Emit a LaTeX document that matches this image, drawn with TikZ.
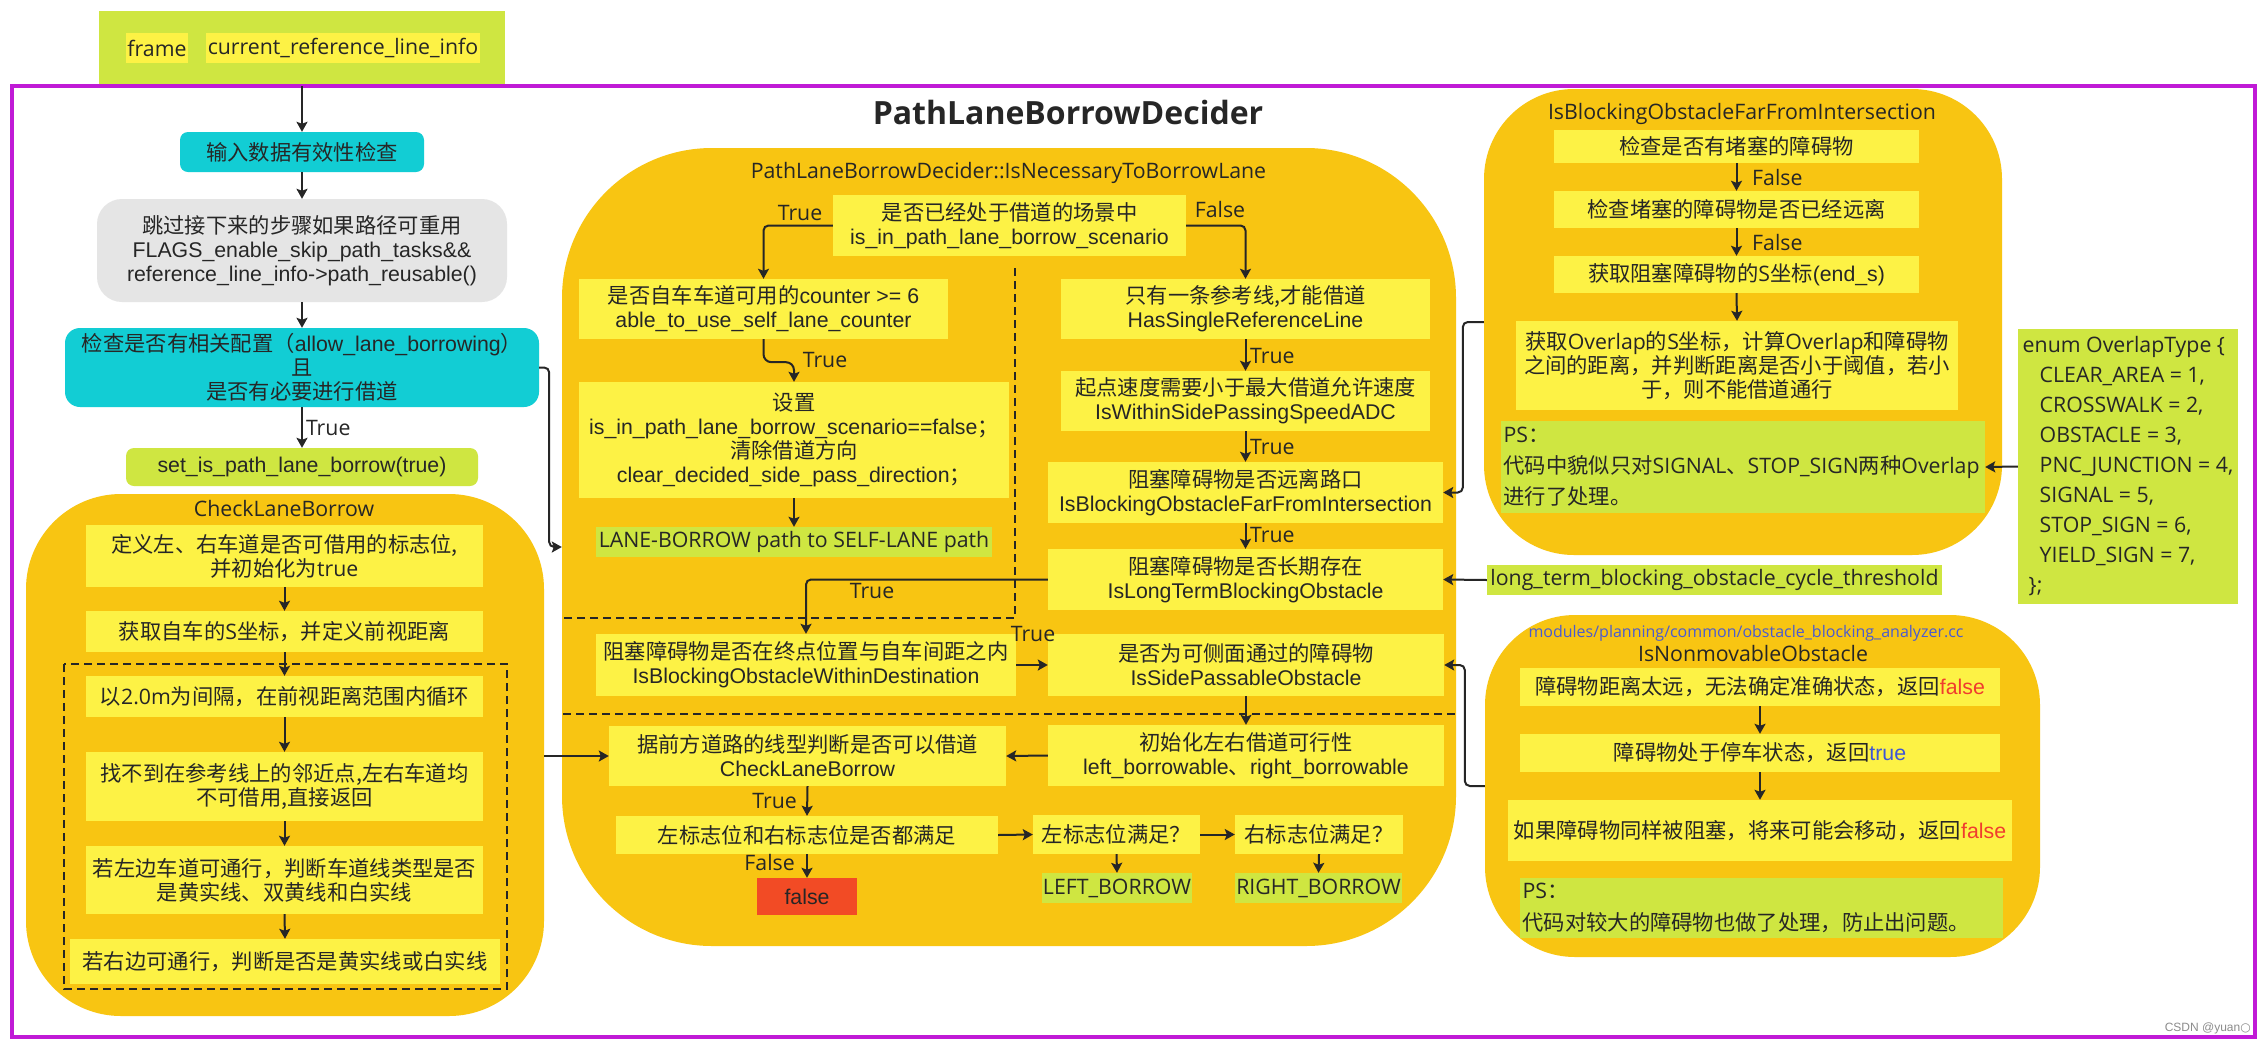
\documentclass[tikz,border=0pt]{standalone}
\usepackage{fontspec}
\setmainfont{Liberation Sans}
\newfontfamily\zhf{Noto Sans CJK SC}
\newfontfamily\osf{Open Sans}
\newfontfamily\arf{Liberation Sans}
\newfontfamily\djv{DejaVu Sans}
\newcommand\ar[1]{{\arf #1}}
\newcommand\os[1]{{\osf #1}}
\usetikzlibrary{arrows.meta}
\definecolor{orng}{HTML}{F8C512}
\definecolor{ylw}{HTML}{FDF245}
\definecolor{grn}{HTML}{CFE641}
\definecolor{cyn}{HTML}{12CDD4}
\definecolor{gry}{HTML}{E5E5E5}
\definecolor{redb}{HTML}{F24B25}
\definecolor{purp}{HTML}{C01AD6}
\definecolor{ink}{HTML}{262626}
\definecolor{pathblue}{HTML}{4A5BD0}
\definecolor{tfred}{HTML}{F03C2E}
\definecolor{tfblue}{HTML}{3D55D6}
\begin{document}
\begin{tikzpicture}[x=1pt,y=-1pt,
 base/.style={inner sep=0pt, align=center, text=ink, font=\zhf\fontsize{21.3}{24}\selectfont},
 yb/.style={base, fill=ylw},
 gb/.style={base, fill=grn},
 big/.style={fill=orng, inner sep=0pt},
 arr/.style={draw=ink, line width=2pt, -{Stealth[length=10pt,width=11pt,inset=2pt]}},
 conn/.style={arr, rounded corners=5pt},
 dsh/.style={draw=ink, line width=2pt, dash pattern=on 8pt off 5pt},
 lab/.style={inner sep=0pt, text=ink, font=\osf\fontsize{21.3}{24}\selectfont},
 hdr/.style={inner sep=0pt, text=ink, font=\osf\fontsize{21.3}{24}\selectfont},
 hl/.style={inner sep=0pt, fill=ylw, minimum height=30, text=ink, font=\osf\fontsize{21.3}{24}\selectfont}
]
\useasboundingbox (0,0) rectangle (2265,1045);
\fill[white] (0,0) rectangle (2265,1045);

% top input box
\node[fill=grn, minimum width=406, minimum height=75, inner sep=0pt] (topbox) at (302,48.5) {};
\node[hl, minimum width=62] (frm) at (157,48) {frame};
\node[hl, minimum width=274] (cri) at (343,48) {current\_reference\_line\_info};

% purple frame
\draw[draw=purp, line width=4pt] (12,86) rectangle (2255,1037);

% title
\node[inner sep=0pt, text=ink, font=\osf\bfseries\fontsize{32}{36}\selectfont] (ttl) at (1068,112) {PathLaneBorrowDecider};

% left column
\node[base, fill=cyn, rounded corners=8pt, minimum width=244, minimum height=40] (c1) at (302,152) {输入数据有效性检查};
\node[base, fill=gry, rounded corners=25pt, minimum width=410, minimum height=103] (g1) at (302,250.5) {跳过接下来的步骤如果路径可重用\\\ar{FLAGS\_enable\_skip\_path\_tasks\&\&}\\\ar{reference\_line\_info->path\_reusable()}};
\node[base, fill=cyn, rounded corners=15pt, minimum width=474, minimum height=79] (c2) at (302,367.5) {检查是否有相关配置（\ar{allow\_lane\_borrowing}）\\且\\是否有必要进行借道};
\node[gb, rounded corners=8pt, minimum width=352, minimum height=38] (setb) at (302,467) {\ar{set\_is\_path\_lane\_borrow(true)}};

% CheckLaneBorrow group
\node[big, rounded corners=95pt, minimum width=518, minimum height=522] (clb) at (285,755) {};
\node[hdr] (clbt) at (284,509) {CheckLaneBorrow};
\node[yb, minimum width=397, minimum height=62] (b1) at (284.5,556) {定义左、右车道是否可借用的标志位,\\并初始化为\os{true}};
\node[yb, minimum width=397, minimum height=41] (b2) at (284.5,631.5) {获取自车的\os{S}坐标，并定义前视距离};
\draw[dsh] (64,664) rectangle (507,989);
\node[yb, minimum width=397, minimum height=41] (b3) at (284.5,696.5) {以\os{2.0m}为间隔，在前视距离范围内循环};
\node[yb, minimum width=397, minimum height=69] (b4) at (284.5,786.5) {找不到在参考线上的邻近点,左右车道均\\不可借用,直接返回};
\node[yb, minimum width=397, minimum height=68] (b5) at (284.5,880) {若左边车道可通行，判断车道线类型是否\\是黄实线、双黄线和白实线};
\node[yb, minimum width=430, minimum height=45] (b6) at (285,961.5) {若右边可通行，判断是否是黄实线或白实线};

% middle group
\node[big, rounded corners=150pt, minimum width=894, minimum height=798] (mid) at (1009,547) {};
\node[hdr] (midt) at (1008.5,173) {PathLaneBorrowDecider::IsNecessaryToBorrowLane};
\draw[dsh] (1015,268) -- (1015,618) -- (563,618);
\draw[dsh] (563,714) -- (1455,714);
\node[yb, minimum width=353, minimum height=61] (d0) at (1009.5,225.5) {是否已经处于借道的场景中\\\ar{is\_in\_path\_lane\_borrow\_scenario}};
\node[yb, minimum width=369, minimum height=60] (l1) at (763.5,309) {是否自车车道可用的\ar{counter >= 6}\\\ar{able\_to\_use\_self\_lane\_counter}};
\node[yb, minimum width=430, minimum height=116] (l2) at (794,440) {设置\\\ar{is\_in\_path\_lane\_borrow\_scenario==false}；\\清除借道方向\\\ar{clear\_decided\_side\_pass\_direction}；};
\node[gb, minimum width=396, minimum height=30, font=\osf\fontsize{21.3}{24}\selectfont] (l3) at (794,542) {LANE-BORROW path to SELF-LANE path};
\node[yb, minimum width=369, minimum height=60] (r1) at (1245.5,309) {只有一条参考线,才能借道\\\ar{HasSingleReferenceLine}};
\node[yb, minimum width=369, minimum height=60] (r2) at (1245.5,401) {起点速度需要小于最大借道允许速度\\\ar{IsWithinSidePassingSpeedADC}};
\node[yb, minimum width=395, minimum height=61] (r3) at (1245.5,492.5) {阻塞障碍物是否远离路口\\\ar{IsBlockingObstacleFarFromIntersection}};
\node[yb, minimum width=395, minimum height=61] (r4) at (1245.5,579.5) {阻塞障碍物是否长期存在\\\ar{IsLongTermBlockingObstacle}};
\node[yb, minimum width=420, minimum height=62] (m1) at (806,665) {阻塞障碍物是否在终点位置与自车间距之内\\\ar{IsBlockingObstacleWithinDestination}};
\node[yb, minimum width=396, minimum height=62] (m2) at (1246,665) {是否为可侧面通过的障碍物\\\ar{IsSidePassableObstacle}};
\node[yb, minimum width=397, minimum height=60] (m3) at (807.5,756) {据前方道路的线型判断是否可以借道\\\ar{CheckLaneBorrow}};
\node[yb, minimum width=396, minimum height=61] (m4) at (1246,755.5) {初始化左右借道可行性\\\ar{left\_borrowable}、\ar{right\_borrowable}};
\node[yb, minimum width=382, minimum height=38] (m5) at (807,835) {左标志位和右标志位是否都满足};
\node[yb, minimum width=167, minimum height=39] (m6) at (1116.5,834.5) {左标志位满足？};
\node[yb, minimum width=168, minimum height=39] (m7) at (1319,834.5) {右标志位满足？};
\node[base, fill=redb, minimum width=100, minimum height=37] (fb) at (807,896.5) {\ar{false}};
\node[gb, minimum width=150, minimum height=30, font=\osf\fontsize{21.3}{24}\selectfont] (lbw) at (1117,888) {LEFT\_BORROW};
\node[gb, minimum width=167, minimum height=30, font=\osf\fontsize{21.3}{24}\selectfont] (rbw) at (1318.5,888) {RIGHT\_BORROW};

% right top group
\node[big, rounded corners=90pt, minimum width=518, minimum height=466] (rt) at (1743,322) {};
\node[hdr] (rtt) at (1742,114) {IsBlockingObstacleFarFromIntersection};
\node[yb, minimum width=365, minimum height=33] (rt1) at (1736.5,146.5) {检查是否有堵塞的障碍物};
\node[yb, minimum width=365, minimum height=37] (rt2) at (1736.5,209.5) {检查堵塞的障碍物是否已经远离};
\node[yb, minimum width=365, minimum height=37] (rt3) at (1736.5,274.5) {获取阻塞障碍物的\os{S}坐标\ar{(end\_s)}};
\node[yb, minimum width=442, minimum height=89] (rt4) at (1737,365.5) {获取\os{Overlap}的\os{S}坐标，计算\os{Overlap}和障碍物\\之间的距离，并判断距离是否小于阈值，若小\\于，则不能借道通行};
\node[base, fill=grn, align=left, text width=479, inner xsep=2.5pt, minimum height=92, font=\zhf\fontsize{21.3}{31}\selectfont] (rtps) at (1743,467) {\os{PS}：\\代码中貌似只对\os{SIGNAL}、\os{STOP\_SIGN}两种\os{Overlap}\\进行了处理。};
\node[base, fill=grn, align=left, minimum width=220, minimum height=275, font=\osf\fontsize{21.3}{30}\selectfont] (en) at (2128,466.5) {enum OverlapType \{\\\hspace*{17pt}CLEAR\_AREA = 1,\\\hspace*{17pt}CROSSWALK = 2,\\\hspace*{17pt}OBSTACLE = 3,\\\hspace*{17pt}PNC\_JUNCTION = 4,\\\hspace*{17pt}SIGNAL = 5,\\\hspace*{17pt}STOP\_SIGN = 6,\\\hspace*{17pt}YIELD\_SIGN = 7,\\\hspace*{6pt}\};};
\node[gb, minimum width=455, minimum height=30, font=\osf\fontsize{21.3}{24}\selectfont] (lt) at (1714.5,580) {long\_term\_blocking\_obstacle\_cycle\_threshold};

% right bottom group
\node[big, rounded corners=90pt, minimum width=555, minimum height=342] (rb) at (1762.5,786) {};
\node[inner sep=0pt, text=pathblue, font=\osf\fontsize{16}{18}\selectfont] (rbp) at (1746,633) {modules/planning/common/obstacle\_blocking\_analyzer.cc};
\node[hdr] (rbt) at (1753,654) {IsNonmovableObstacle};
\node[yb, minimum width=480, minimum height=38] (nb1) at (1760,687) {障碍物距离太远，无法确定准确状态，返回\ar{\color{tfred}false}};
\node[yb, minimum width=480, minimum height=38] (nb2) at (1760,753) {障碍物处于停车状态，返回\ar{\color{tfblue}true}};
\node[yb, minimum width=504, minimum height=61] (nb3) at (1760,830.5) {如果障碍物同样被阻塞，将来可能会移动，返回\ar{\color{tfred}false}};
\node[base, fill=grn, align=left, text width=478, inner xsep=2.5pt, minimum height=60, font=\zhf\fontsize{21.3}{32}\selectfont] (nbps) at (1761.5,908) {\os{PS}：\\代码对较大的障碍物也做了处理，防止出问题。};

% watermark
\node[inner sep=0pt, anchor=east, text=black!45, font=\arf\fontsize{12}{14}\selectfont] (wm) at (2251,1028) {CSDN @yuan\djv{○}};

% ---------- connectors ----------
\draw[arr] (topbox.south) -- (c1.north);
\draw[arr] (c1.south) -- (g1.north);
\draw[arr] (g1.south) -- (c2.north);
\draw[arr] (c2.south) -- (setb.north) node[lab, pos=0.5, right=3pt] (tl0) {True};
\draw[conn] (c2.east) -- ++(10,0) |- (mid.west);

\draw[arr] (b1.south) -- (b2.north);
\draw[arr] (b2.south) -- (b3.north);
\draw[arr] (b3.south) -- (b4.north);
\draw[arr] (b4.south) -- (b5.north);
\draw[arr] (b5.south) -- (b6.north);
\draw[arr] (clb.east |- m3.west) -- (m3.west);

\draw[conn] (d0.west) -| (l1.north);
\node[lab] (t1) at (800,213) {True};
\draw[conn] (d0.east) -| (r1.north);
\node[lab] (f1) at (1220,210) {False};
\draw[arr, rounded corners=8pt] (l1.south) -- ++(0,23) -| (l2.north);
\node[lab] (t2) at (825,360) {True};
\draw[arr] (l2.south) -- (l3.north);
\draw[arr] (r1.south) -- (r2.north);
\node[lab, anchor=west] (t3) at (1250,356) {True};
\draw[arr] (r2.south) -- (r3.north);
\node[lab, anchor=west] (t4) at (1250,447) {True};
\draw[arr] (r3.south) -- (r4.north);
\node[lab, anchor=west] (t5) at (1250,535) {True};
\draw[conn] (r4.west) -| (m1.north);
\node[lab] (t6) at (872,591) {True};
\draw[arr] (m1.east) -- (m2.west);
\node[lab] (t7) at (1033,634) {True};
\draw[arr] (m2.south) -- (m4.north);
\draw[arr] (m4.west) -- (m3.east);
\draw[arr] (m3.south) -- (m5.north);
\node[lab, anchor=east] (t8) at (797,801) {True};
\draw[arr] (m5.south) -- (fb.north);
\node[lab, anchor=east] (f2) at (795,862) {False};
\draw[arr] (m5.east) -- (m6.west);
\draw[arr] (m6.east) -- (m7.west);
\draw[arr] (m6.south) -- (lbw.north);
\draw[arr] (m7.south) -- (rbw.north);

\draw[conn] (rt.west) -- ++(-21,0) |- (r3.east);
\draw[conn] (rb.west) -- ++(-20,0) |- (m2.east);
\draw[arr] (lt.west) -- (r4.east);
\draw[arr] (en.west) -- (rtps.east);

\draw[arr] (rt1.south) -- (rt2.north);
\node[lab, anchor=west] (f3) at (1752,178) {False};
\draw[arr] (rt2.south) -- (rt3.north);
\node[lab, anchor=west] (f4) at (1752,243) {False};
\draw[arr] (rt3.south) -- (rt4.north);

\draw[arr] (nb1.south) -- (nb2.north);
\draw[arr] (nb2.south) -- (nb3.north);
\end{tikzpicture}
\end{document}
